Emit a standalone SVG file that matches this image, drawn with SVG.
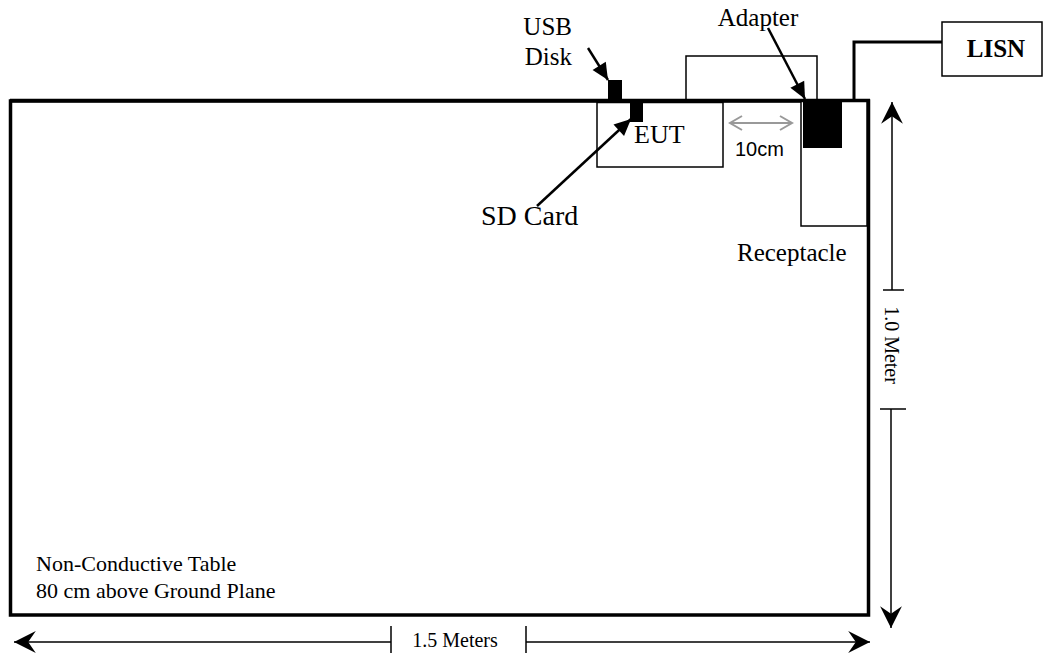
<svg xmlns="http://www.w3.org/2000/svg" width="1044" height="656" viewBox="0 0 1044 656">
<defs>
<style>
.t{font-family:"Liberation Serif","Times New Roman",serif;fill:#000}
.a{font-family:"Liberation Sans",Arial,sans-serif;fill:#000}
.thin{fill:#fff;stroke:#000;stroke-width:1.5}
.blk{fill:#000;stroke:none}
.lead{stroke:#000;stroke-width:2.5;fill:none}
.dim{stroke:#000;stroke-width:1.5;fill:none}
</style>
<marker id="fa" markerUnits="userSpaceOnUse" markerWidth="20" markerHeight="20" viewBox="-16 -8 18 16" refX="0" refY="0" orient="auto">
<path d="M0,0 L-15,-7 L-15,7 Z" fill="#000"/>
</marker>
<marker id="st" markerUnits="userSpaceOnUse" markerWidth="24" markerHeight="24" viewBox="-21 -11 22 22" refX="0" refY="0" orient="auto">
<path d="M0,0 L-20,-10 L-13,0 L-20,10 Z" fill="#000"/>
</marker>
<marker id="ga" markerUnits="userSpaceOnUse" markerWidth="18" markerHeight="18" viewBox="-14 -9 16 18" refX="0" refY="0" orient="auto">
<path d="M-12,-7 L0,0 L-12,7" fill="none" stroke="#999" stroke-width="2"/>
</marker>
</defs>
<rect width="1044" height="656" fill="#fff"/>

<g id="table">
<rect x="10.5" y="101" width="858" height="514" fill="#fff" stroke="#000" stroke-width="3.5"/>
<text class="t" x="36" y="571" font-size="22">Non-Conductive Table</text>
<text class="t" x="36" y="598" font-size="22">80 cm above Ground Plane</text>
</g>

<g id="cable-loop">
<path d="M686,100 V56 H817 V100" class="thin" fill="none"/>
</g>

<g id="eut">
<rect x="597" y="102.5" width="126" height="64.5" class="thin"/>
<text class="t" x="634" y="143" font-size="26">EUT</text>
</g>

<g id="usb-disk">
<rect x="608" y="80" width="14" height="21" class="blk"/>
<text class="t" x="572" y="35" font-size="25" text-anchor="end">USB</text>
<text class="t" x="572" y="65" font-size="25" text-anchor="end">Disk</text>
</g>

<g id="sd-card">
<rect x="630" y="100" width="13" height="22" class="blk"/>
<text class="t" x="481" y="225" font-size="28">SD Card</text>
</g>

<g id="receptacle">
<rect x="801" y="101" width="66" height="125" class="thin"/>
<text class="t" x="737" y="261" font-size="25">Receptacle</text>
</g>

<g id="adapter">
<rect x="803" y="100" width="39" height="48" class="blk"/>
<text class="t" x="758" y="26" font-size="25" text-anchor="middle">Adapter</text>
</g>

<g id="lisn">
<rect x="942" y="22" width="100" height="54" class="thin"/>
<text class="t" x="996" y="57" font-size="25" font-weight="bold" text-anchor="middle">LISN</text>
</g>

<g id="connectors">
<path d="M854,100 V42 H942" stroke="#000" stroke-width="3" fill="none"/>
<line x1="10" y1="100.5" x2="870" y2="100.5" stroke="#000" stroke-width="3.5"/>
<line x1="588" y1="48" x2="608" y2="80" class="lead" marker-end="url(#fa)"/>
<line x1="537" y1="206" x2="631" y2="119" class="lead" marker-end="url(#fa)"/>
<line x1="768" y1="28" x2="805" y2="99" class="lead" marker-end="url(#fa)"/>
<line x1="761" y1="123" x2="730" y2="123" stroke="#999" stroke-width="2" marker-end="url(#ga)"/>
<line x1="761" y1="123" x2="792" y2="123" stroke="#999" stroke-width="2" marker-end="url(#ga)"/>
<text class="a" x="735" y="156" font-size="20">10cm</text>

<line x1="892" y1="290" x2="892" y2="102" class="dim" marker-end="url(#st)"/>
<line x1="883" y1="290" x2="904" y2="290" class="dim"/>
<line x1="891" y1="409" x2="891" y2="628" class="dim" marker-end="url(#st)"/>
<line x1="880" y1="409" x2="906" y2="409" class="dim"/>
<text class="t" font-size="20" text-anchor="middle" transform="translate(885,345) rotate(90)">1.0 Meter</text>

<line x1="391" y1="642" x2="14" y2="642" class="dim" marker-end="url(#st)"/>
<line x1="391" y1="626" x2="391" y2="653" class="dim"/>
<line x1="526" y1="642" x2="870" y2="642" class="dim" marker-end="url(#st)"/>
<line x1="526" y1="626" x2="526" y2="653" class="dim"/>
<text class="t" x="455" y="647" font-size="20" text-anchor="middle">1.5 Meters</text>
</g>
</svg>
